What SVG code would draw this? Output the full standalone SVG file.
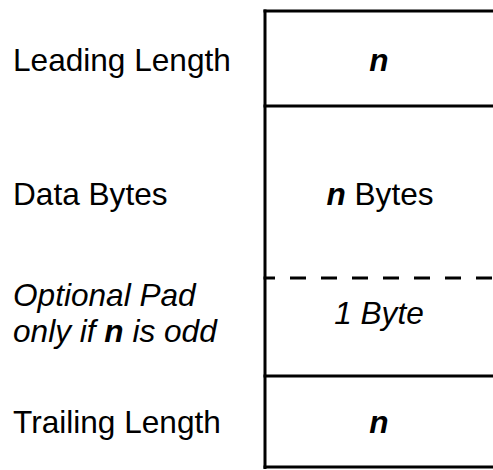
<svg xmlns="http://www.w3.org/2000/svg" width="493" height="470" viewBox="0 0 493 470">
  <style>
    .rule { stroke: #000; stroke-width: 3; fill: none; }
    .dash { stroke-dasharray: 16 15; stroke-dashoffset: 4.5; }
    text { font-family: "Liberation Sans", Arial, sans-serif; font-size: 31.6px; fill: #000; }
    .cell { text-anchor: middle; }
    .it { font-style: italic; }
    .bi { font-style: italic; font-weight: bold; }
  </style>
  <rect width="493" height="470" fill="#fff"/>

  <!-- record layout frame -->
  <g id="frame">
    <line class="rule" x1="265" y1="9.5" x2="265" y2="469"/>
    <line class="rule" x1="263.5" y1="11" x2="493" y2="11"/>
    <line class="rule" x1="263.5" y1="106" x2="493" y2="106"/>
    <line class="rule dash" x1="263.5" y1="278" x2="493" y2="278"/>
    <line class="rule" x1="263.5" y1="376" x2="493" y2="376"/>
    <line class="rule" x1="263.5" y1="467" x2="493" y2="467"/>
  </g>

  <g id="leading-length">
    <text x="13" y="71">Leading Length</text>
    <text class="cell bi" x="379" y="71">n</text>
  </g>

  <g id="data-bytes">
    <text x="13" y="205">Data Bytes</text>
    <text class="cell" x="380" y="205"><tspan class="bi">n</tspan> Bytes</text>
  </g>

  <g id="optional-pad">
    <text class="it" x="13" y="306">Optional Pad</text>
    <text class="it" x="13" y="342">only if <tspan font-weight="bold">n</tspan> is odd</text>
    <text class="cell it" x="379" y="324">1 Byte</text>
  </g>

  <g id="trailing-length">
    <text x="13" y="433">Trailing Length</text>
    <text class="cell bi" x="379" y="433">n</text>
  </g>
</svg>
